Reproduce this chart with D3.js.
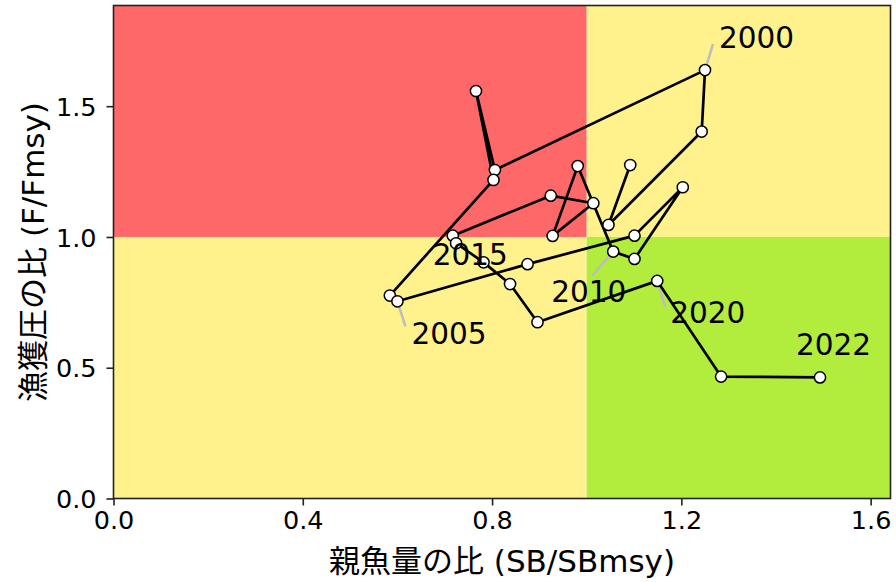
<!DOCTYPE html>
<html>
<head>
<meta charset="utf-8">
<script src="https://cdn.jsdelivr.net/npm/d3@7"></script>
<style>
  body { margin: 0; background: #fff; }
  text { font-family: "DejaVu Sans", "Noto Sans CJK JP", sans-serif; fill: #000; }
</style>
</head>
<body>
<svg id="chart"></svg>
<script>
// data
const years = [1997, 1998, 1999, 2000, 2001, 2002, 2003, 2004, 2005, 2006, 2007, 2008, 2009,
               2010, 2011, 2012, 2013, 2014, 2015, 2016, 2017, 2018, 2019, 2020, 2021, 2022];
const sbRatio = [1.092, 1.046, 1.243, 1.250, 0.806, 0.766, 0.803, 0.584, 0.600, 0.875, 1.101, 1.203, 1.101,
                 1.056, 0.981, 0.928, 1.014, 0.924, 0.717, 0.724, 0.782, 0.838, 0.896, 1.149, 1.284, 1.493];
const fRatio = [1.275, 1.046, 1.403, 1.638, 1.256, 1.558, 1.218, 0.776, 0.754, 0.896, 1.005, 1.190, 0.916,
                0.944, 1.271, 1.004, 1.129, 1.158, 1.005, 0.976, 0.903, 0.820, 0.674, 0.832, 0.466, 0.463];
const labelYears = [2000, 2005, 2010, 2015, 2020, 2022];
const xTicks = [0.0, 0.4, 0.8, 1.2, 1.6];
const yTicks = [0.0, 0.5, 1.0, 1.5];

// label placement (pixels from the point): text start and leader end
const labelOffset = {
  2000: { tx: 14, ty: -22, lx: 8, ly: -26 },
  2005: { tx: 14, ty: 43, lx: 8, ly: 25 },
  2010: { tx: -62, ty: 50, lx: -21, ly: 24 },
  2015: { tx: -20, ty: 29, lx: 0, ly: 0 },
  2020: { tx: 13, ty: 42, lx: 8, ly: 26 },
  2022: { tx: -24, ty: -22, lx: 0, ly: 0 }
};

const width = 896, height = 582;
const margin = { top: 5.5, right: 5.5, bottom: 83.5, left: 113.5 };
const w = width - margin.left - margin.right;
const h = height - margin.top - margin.bottom;

const x = d3.scaleLinear().domain([0, 1.642]).range([0, w]);
const y = d3.scaleLinear().domain([0, 1.885]).range([h, 0]);

const svg = d3.select("#chart").attr("width", width).attr("height", height);
const g = svg.append("g").attr("transform", `translate(${margin.left},${margin.top})`);

// kobe zones
const zones = [
  { x0: 0, x1: 1, y0: 1, y1: 1.885, color: "#ff6868" },
  { x0: 1, x1: 1.642, y0: 1, y1: 1.885, color: "#fff28c" },
  { x0: 0, x1: 1, y0: 0, y1: 1, color: "#fff28c" },
  { x0: 1, x1: 1.642, y0: 0, y1: 1, color: "#b2ec3d" }
];
g.selectAll("rect.zone").data(zones).join("rect")
  .attr("class", "zone")
  .attr("x", d => x(d.x0))
  .attr("y", d => y(d.y1))
  .attr("width", d => x(d.x1) - x(d.x0))
  .attr("height", d => y(d.y0) - y(d.y1))
  .attr("fill", d => d.color);

const pts = years.map((yr, i) => ({ year: yr, sb: sbRatio[i], f: fRatio[i] }));
const labelled = pts.filter(d => labelYears.includes(d.year));

// leader lines
g.selectAll("line.leader").data(labelled).join("line")
  .attr("class", "leader")
  .attr("x1", d => x(d.sb))
  .attr("y1", d => y(d.f))
  .attr("x2", d => x(d.sb) + labelOffset[d.year].lx)
  .attr("y2", d => y(d.f) + labelOffset[d.year].ly)
  .attr("stroke", "#bdbdbd")
  .attr("stroke-width", 2.5);

// trajectory
g.append("path")
  .datum(pts)
  .attr("fill", "none")
  .attr("stroke", "#000")
  .attr("stroke-width", 2.7)
  .attr("stroke-linejoin", "round")
  .attr("d", d3.line().x(d => x(d.sb)).y(d => y(d.f)));

g.selectAll("circle.pt").data(pts).join("circle")
  .attr("class", "pt")
  .attr("cx", d => x(d.sb))
  .attr("cy", d => y(d.f))
  .attr("r", 5.6)
  .attr("fill", "#fff")
  .attr("stroke", "#000")
  .attr("stroke-width", 1.5);

// year labels
g.selectAll("text.yr").data(labelled).join("text")
  .attr("class", "yr")
  .attr("x", d => x(d.sb) + labelOffset[d.year].tx)
  .attr("y", d => y(d.f) + labelOffset[d.year].ty)
  .style("font-size", "29.5px")
  .text(d => d.year);

// axes
const xAxis = g.append("g")
  .attr("transform", `translate(0,${h})`)
  .call(d3.axisBottom(x).tickValues(xTicks).tickFormat(d3.format(".1f")).tickSize(7).tickPadding(5));
const yAxis = g.append("g")
  .call(d3.axisLeft(y).tickValues(yTicks).tickFormat(d3.format(".1f")).tickSize(7).tickPadding(10));

[xAxis, yAxis].forEach(a => {
  a.select(".domain").remove();
  a.selectAll(".tick line").attr("stroke", "#222").attr("stroke-width", 1.6);
  a.selectAll(".tick text").style("font-size", "25.5px").attr("font-family", null);
});
yAxis.selectAll(".tick text").attr("dy", "0.36em");
xAxis.selectAll(".tick text").attr("dy", "0.73em");

// frame
g.append("rect")
  .attr("width", w).attr("height", h)
  .attr("fill", "none")
  .attr("stroke", "#222")
  .attr("stroke-width", 1.6);

// axis titles
svg.append("text")
  .attr("x", margin.left + w / 2)
  .attr("y", 571.5)
  .attr("text-anchor", "middle")
  .style("font-size", "31px")
  .text("親魚量の比 (SB/SBmsy)");

svg.append("text")
  .attr("transform", `translate(44,${margin.top + h / 2}) rotate(-90)`)
  .attr("text-anchor", "middle")
  .style("font-size", "31px")
  .text("漁獲圧の比 (F/Fmsy)");
</script>
</body>
</html>
